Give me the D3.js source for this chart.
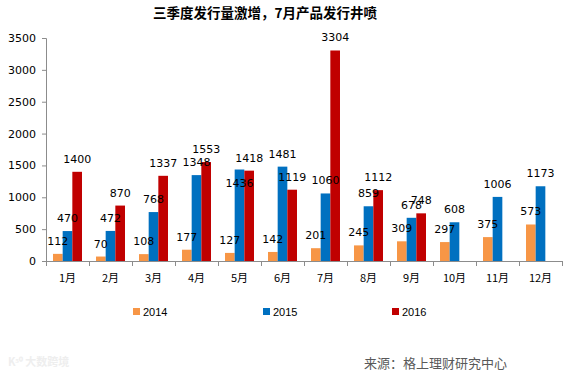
<!DOCTYPE html>
<html><head><meta charset="utf-8">
<script src="https://cdn.jsdelivr.net/npm/d3@7"></script>
<style>body{margin:0;background:#fff;}svg{display:block;}</style>
</head><body><svg id="c" width="570" height="374"></svg>
<script>
const categories = ["1月","2月","3月","4月","5月","6月","7月","8月","9月","10月","11月","12月"];
const seriesNames = ["2014","2015","2016"];
const v2014 = [112,70,108,177,127,142,201,245,309,297,375,573];
const v2015 = [470,472,768,1348,1436,1481,1060,859,678,608,1006,1173];
const v2016 = [1400,870,1337,1553,1418,1119,3304,1112,748,null,null,null];
const yTicks = [0,500,1000,1500,2000,2500,3000,3500];
const colors = ["#F79646","#0070C0","#C00000"];
const title = "三季度发行量激增，7月产品发行井喷";
const source = "来源：格上理财研究中心";

(function(){
const values = [v2014, v2015, v2016];
const svg = d3.select("#c");
const mLeft = 46, mRight = 562, mTop = 38, mBottom = 261;

const y = d3.scaleLinear().domain([0,3500]).range([mBottom, mTop]);
const p = 0.326;
const x0 = d3.scaleBand().domain(categories).range([mLeft, mRight]).paddingInner(p).paddingOuter(p/2);
const x1 = d3.scaleBand().domain(seriesNames).range([0, x0.bandwidth()]);

svg.append("text").attr("x",265).attr("y",18).attr("text-anchor","middle")
  .attr("font-family","'Noto Sans CJK SC'").attr("font-weight","bold").attr("font-size",13.5)
  .attr("fill","#000").text(title);

// Y axis
const ya = svg.append("g").attr("transform",`translate(${mLeft},0)`)
  .call(d3.axisLeft(y).tickValues(yTicks).tickSize(4).tickPadding(6).tickFormat(d3.format("d")));
ya.select(".domain").attr("stroke","#8c8c8c");
ya.selectAll(".tick line").attr("stroke","#8c8c8c");
ya.selectAll("text").attr("font-family","'DejaVu Sans'").attr("font-size",11).attr("fill","#000");

// bars
const labelBelow = {"5月|2015": true};
const barG = svg.append("g");
const labG = svg.append("g");
seriesNames.forEach((s, si) => {
  const data = categories.map((c,i)=>({c, v: values[si][i]})).filter(d=>d.v!=null);
  barG.append("g").selectAll("rect").data(data).join("rect")
    .attr("x", d=>x0(d.c)+x1(s)).attr("width", x1.bandwidth())
    .attr("y", d=>y(d.v)).attr("height", d=>mBottom - y(d.v))
    .attr("fill", colors[si]);
  labG.append("g").selectAll("text").data(data).join("text")
    .attr("x", d=>x0(d.c)+x1(s)+x1.bandwidth()/2)
    .attr("y", d=> labelBelow[d.c+"|"+s] ? y(d.v)+17.5 : y(d.v)-9)
    .attr("text-anchor","middle")
    .attr("font-family","'DejaVu Sans'").attr("font-size",11).attr("fill","#000")
    .text(d=>d.v);
});

// X axis
const xg = svg.append("g");
xg.append("line").attr("x1",mLeft).attr("x2",mRight).attr("y1",mBottom+0.5).attr("y2",mBottom+0.5).attr("stroke","#8c8c8c");
const step = x0.step();
d3.range(categories.length+1).forEach(i=>{
  const xx = Math.round(mLeft + i*step)+0.5;
  xg.append("line").attr("x1",xx).attr("x2",xx).attr("y1",mBottom).attr("y2",mBottom+5).attr("stroke","#8c8c8c");
});
xg.selectAll("text").data(categories).join("text")
  .attr("x", d=>x0(d)+x0.bandwidth()/2).attr("y", 282)
  .attr("text-anchor","middle").attr("font-family","'Noto Sans CJK SC'").attr("font-size",11).attr("fill","#000")
  .text(d=>d);

// legend
const legX = [133, 263, 392];
seriesNames.forEach((s,si)=>{
  svg.append("rect").attr("x",legX[si]).attr("y",308).attr("width",7).attr("height",7).attr("fill",colors[si]);
  svg.append("text").attr("x",legX[si]+10).attr("y",316).attr("font-family","'Liberation Sans'")
    .attr("font-size",11).attr("fill","#000").text(s);
});

// watermark
svg.append("text").attr("x",8).attr("y",366).attr("font-family","'Noto Sans CJK SC'").attr("font-size",11)
  .attr("fill","#eeeeee").attr("font-weight","bold").text("K⁵⁰ 大数跨境");

// source
svg.append("text").attr("x",364).attr("y",368).attr("font-family","'Noto Sans CJK SC'").attr("font-size",13)
  .attr("fill","#595959").text(source);
})();
</script></body></html>
